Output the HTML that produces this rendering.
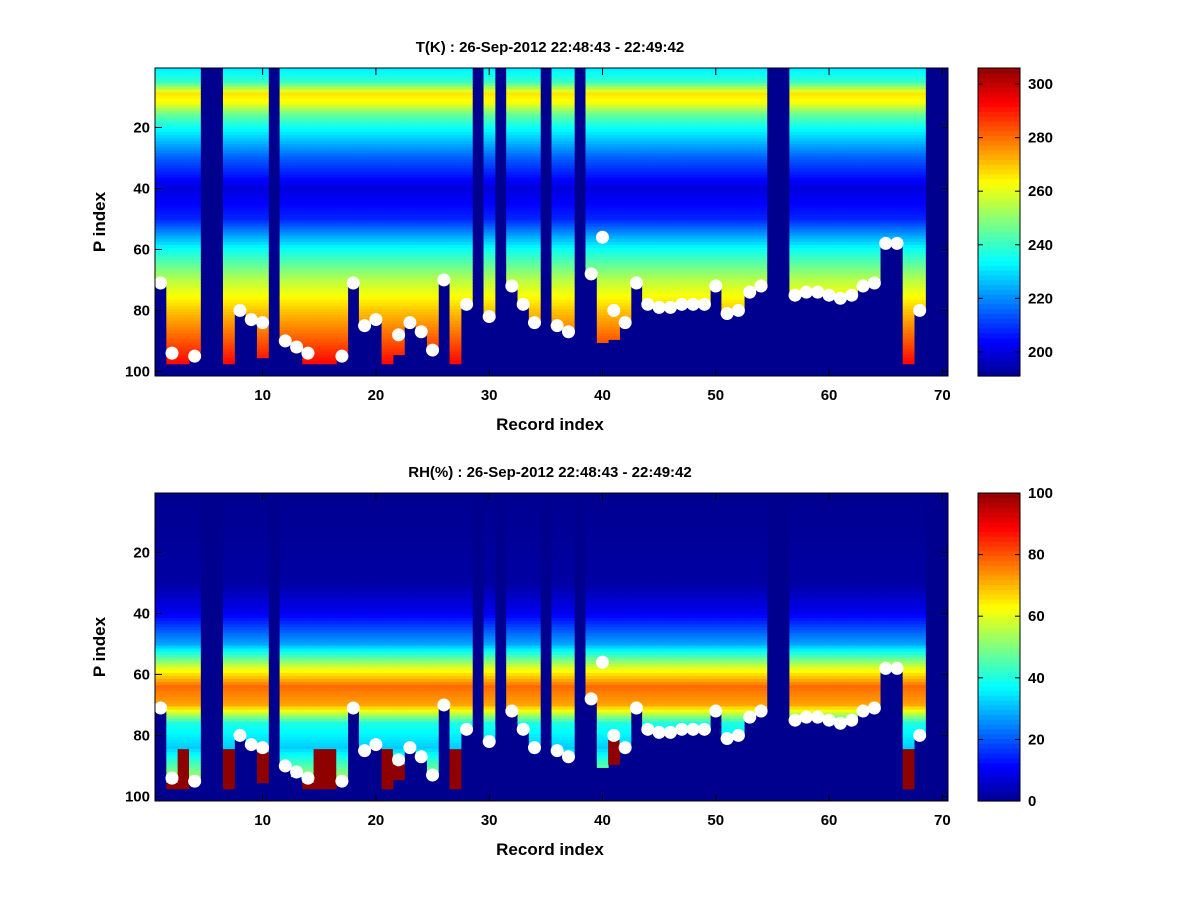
<!DOCTYPE html>
<html><head><meta charset="utf-8"><style>
body{margin:0;background:#fff;}
svg text{font-family:"Liberation Sans",sans-serif;font-weight:bold;}
</style></head><body>
<svg id="fig" width="1200" height="900" xmlns="http://www.w3.org/2000/svg">
<rect width="1200" height="900" fill="#fff"/>
</svg>
<script>
// ---- data ----
const records = [];
for (let r = 1; r <= 70; r++) records.push(r);
const missing = [5,6,11,29,31,35,38,55,56,69,70];
// surface P index (white dot); null = no dot
const surf = [71,94,null,95,null,null,null,80,83,84,null,90,92,94,null,null,95,71,85,83,null,88,84,87,93,70,null,78,null,82,null,72,78,84,null,85,87,null,68,56,80,84,71,78,79,79,78,78,78,72,81,80,74,72,null,null,75,74,74,75,76,75,72,71,58,58,null,80,null,null];
// last P index with data
const bottom = [71,97,97,95,0,0,97,80,83,95,0,90,93,97,97,97,95,71,85,83,97,94,84,87,93,70,97,78,0,82,0,72,78,84,0,85,87,0,68,90,89,84,71,78,79,79,78,78,78,72,81,80,74,72,0,0,75,74,74,75,76,75,72,71,58,58,97,80,0,0];
// mean temperature profile knots (P index -> K)
const tLevels = [1,5,9,12,16,20,30,40,50,60,70,80,90,97,101];
const tProfile = [232,240,266,262,245,235,215,200,208,235,255,270,283,292,295];
// RH profile knots (P index -> %)
const rhLevels = [1,30,40,50,58,64,70,76,84,92,101];
const rhProfile = [0,2,10,28,60,78,72,40,32,50,60];
const tTicks = [200,220,240,260,280,300];
const rhTicks = [0,20,40,60,80,100];
const xTicks = [10,20,30,40,50,60,70];
const yTicks = [20,40,60,80,100];

// ---- helpers ----
const NS = "http://www.w3.org/2000/svg";
const svg = document.getElementById('fig');
function mk(tag, attrs, parent){const e=document.createElementNS(NS,tag);for(const k in attrs)e.setAttribute(k,attrs[k]);(parent||svg).appendChild(e);return e;}
function jet(v){v=Math.max(0,Math.min(1,v));v=0.0156+v*0.9688;const r=Math.max(0,Math.min(1,1.5-Math.abs(4*v-3)));const g=Math.max(0,Math.min(1,1.5-Math.abs(4*v-2)));const b=Math.max(0,Math.min(1,1.5-Math.abs(4*v-1)));return `rgb(${Math.round(r*255)},${Math.round(g*255)},${Math.round(b*255)})`;}
function interp(lv,vals,p){for(let i=0;i<lv.length-1;i++){if(p<=lv[i+1]){const f=(p-lv[i])/(lv[i+1]-lv[i]);return vals[i]+f*(vals[i+1]-vals[i]);}}return vals[vals.length-1];}
const X0=155,X1=948;
function xs(r){return X0+(r-0.5)*(X1-X0)/70;}

function panel(top, title, vmin, vmax, valueFn, cticks, nameP){
  const Y0=top, H=308;
  const ys=p=>Y0+(p-0.5)*H/101;
  const g=mk('g',{});
  
  
  mk('rect',{x:X0,y:Y0,width:X1-X0,height:H,fill:'#00008f'},g);
  records.forEach((r,i)=>{
    if(missing.includes(r))return;
    for(let p=1;p<=bottom[i];p++){
      const v=valueFn(i,p);
      const c=mk('rect',{x:xs(r-0.5),y:ys(p-0.5),width:xs(r+0.5)-xs(r-0.5)+0.5,height:H/101+0.5,fill:jet((v-vmin)/(vmax-vmin))},g);
      
      
    }
  });
  records.forEach((r,i)=>{
    if(surf[i]==null)return;
    const d=mk('circle',{cx:xs(r),cy:ys(surf[i]),r:6.5,fill:'#fff'});
    
    
  });
  mk('rect',{x:X0,y:Y0,width:X1-X0,height:H,fill:'none',stroke:'#000','stroke-width':1});
  xTicks.forEach(t=>{const x=xs(t);mk('line',{x1:x,x2:x,y1:Y0+H,y2:Y0+H-7,stroke:'#000'});mk('line',{x1:x,x2:x,y1:Y0,y2:Y0+7,stroke:'#000'});
    const tx=mk('text',{x:x,y:Y0+H+24,'text-anchor':'middle','font-size':15});tx.textContent=t;
    });
  yTicks.forEach(t=>{const y=ys(t);mk('line',{x1:X0,x2:X0+7,y1:y,y2:y,stroke:'#000'});mk('line',{x1:X1,x2:X1-7,y1:y,y2:y,stroke:'#000'});
    const tx=mk('text',{x:X0-5,y:y+5,'text-anchor':'end','font-size':15});tx.textContent=t;
    });
  const tt=mk('text',{x:550,y:Y0-16,'text-anchor':'middle','font-size':15});tt.textContent=title;
  
  const xl=mk('text',{x:550,y:Y0+H+54,'text-anchor':'middle','font-size':17});xl.textContent='Record index';
  
  const yl=mk('text',{x:105,y:Y0+H/2,'text-anchor':'middle','font-size':17,transform:`rotate(-90 105 ${Y0+H/2})`});yl.textContent='P index';
  
  // colorbar
  const cb=mk('g',{});
  
  
  const CX=978,CW=42,N=64;
  for(let k=0;k<N;k++){mk('rect',{x:CX,y:Y0+H-(k+1)*H/N,width:CW,height:H/N+0.6,fill:jet((k+0.5)/N)},cb);}
  mk('rect',{x:CX,y:Y0,width:CW,height:H,fill:'none',stroke:'#000'},cb);
  cticks.forEach(t=>{const y=Y0+H-(t-vmin)/(vmax-vmin)*H;
    mk('line',{x1:CX,x2:CX+5,y1:y,y2:y,stroke:'#000'},cb);mk('line',{x1:CX+CW,x2:CX+CW-5,y1:y,y2:y,stroke:'#000'},cb);
    const tx=mk('text',{x:CX+CW+8,y:y+5,'font-size':15},cb);tx.textContent=t;
    });
}

panel(68,'T(K) : 26-Sep-2012 22:48:43 - 22:49:42',191,306,
  (i,p)=>interp(tLevels,tProfile,p),tTicks,'temperature');
panel(493,'RH(%) : 26-Sep-2012 22:48:43 - 22:49:42',0,100,
  (i,p)=>{ if(surf[i]!=null && surf[i]>75 && p>surf[i]+1) return 100; if(surf[i]==null && p>84) return 100; return interp(rhLevels,rhProfile,p);},rhTicks,'humidity');
</script>
</body></html>
